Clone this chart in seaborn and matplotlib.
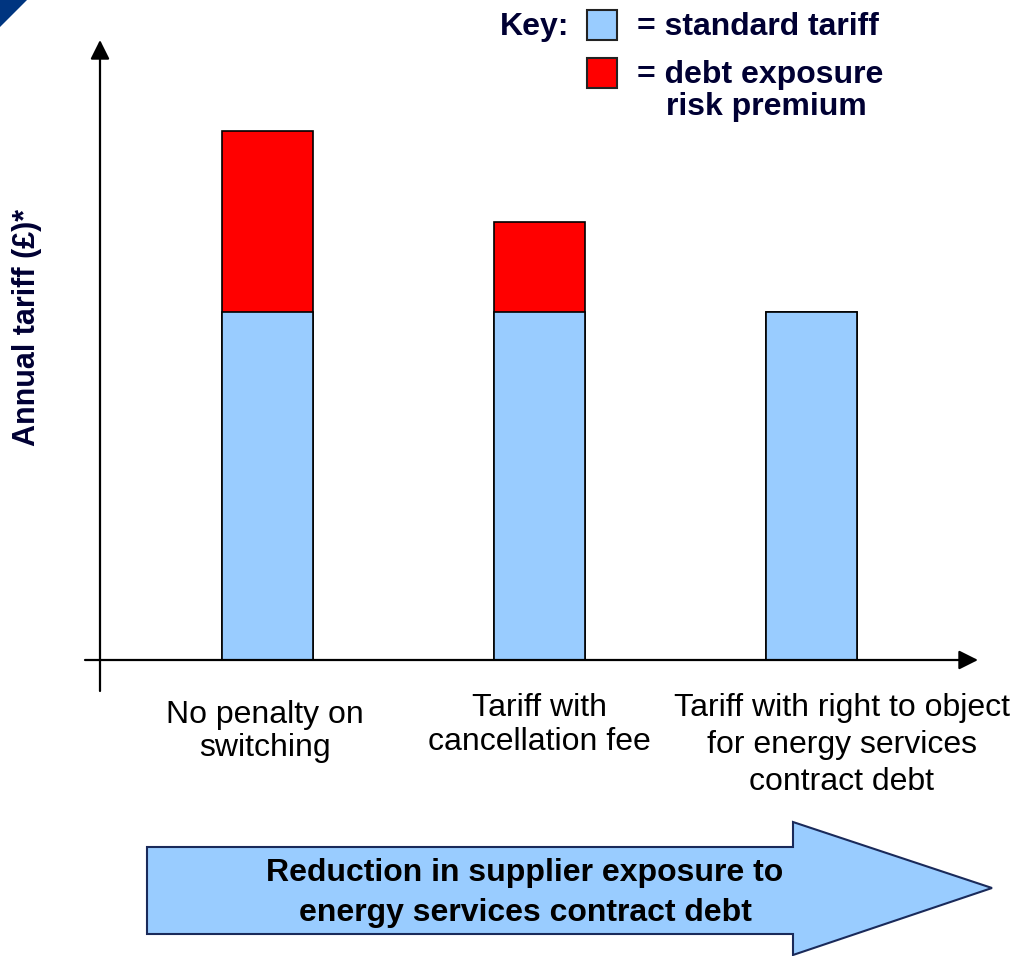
import numpy as np
import pandas as pd
import matplotlib
matplotlib.use('Agg')
import matplotlib.pyplot as plt
import seaborn as sns
from matplotlib.patches import Polygon, Rectangle

# Chart values (arbitrary units)
categories = ['No penalty on\nswitching',
              'Tariff with\ncancellation fee',
              'Tariff with right to object\nfor energy services\ncontract debt']
standard_tariff = [100, 100, 100]
risk_premium = [52, 26, 0]

W, H = 1016, 956
sns.set_style('white')
plt.rcParams['font.family'] = ['Liberation Sans', 'DejaVu Sans']

df = pd.DataFrame({'category': categories,
                   'standard': standard_tariff,
                   'premium': risk_premium})
df['total'] = df['standard'] + df['premium']

fig = plt.figure(figsize=(W / 100, H / 100), dpi=100)
ax = fig.add_axes([0, 0, 1, 1])

# stacked bars: total first (red), then standard on top (blue)
sns.barplot(data=df, x='category', y='total', color='#ff0000', saturation=1,
            width=0.335, edgecolor='black', linewidth=1.2, ax=ax)
sns.barplot(data=df, x='category', y='standard', color='#99ccff', saturation=1,
            width=0.335, edgecolor='black', linewidth=1.2, ax=ax)

# pixel <-> data mapping: bar 0 centre at x=267.5px, spacing 272px,
# baseline at y=660px, 3.48px per unit
sx, x0 = 272.0, 267.5
sy, y0 = 3.48, 660.0
def px(x):
    return (x - x0) / sx
def py(y):
    return (y0 - y) / sy

ax.set_xlim(px(0), px(W))
ax.set_ylim(py(H), py(0))
ax.axis('off')

# axis arrows
arrow_kw = dict(arrowstyle='-|>,head_length=0.58,head_width=0.29',
                mutation_scale=20, color='black', lw=1.6,
                shrinkA=0, shrinkB=0)
ax.annotate('', xy=(px(100), py(40)), xytext=(px(100), py(691)),
            arrowprops=arrow_kw)
ax.annotate('', xy=(px(978), py(660)), xytext=(px(85), py(660)),
            arrowprops=arrow_kw)

# category labels
label_x = [265, 539, 842]
label_y = [700, 693, 693]
label_ls = [1.12, 1.18, 1.3]
for lab, lx, ly, ls in zip(categories, label_x, label_y, label_ls):
    ax.text(px(lx), py(ly), lab, ha='center', va='top', fontsize=23,
            linespacing=ls, color='black')

# y label
fig.text(27 / W, 1 - 327 / H, 'Annual tariff (£)*', rotation=90,
         ha='center', va='center', fontsize=22, fontweight='bold',
         color='#000033')

# key
navy = '#000033'
fig.text(500 / W, 1 - 27 / H, 'Key:', ha='left', va='center', fontsize=23,
         fontweight='bold', color=navy)
for (yy, col) in [(10, '#99ccff'), (58, '#ff0000')]:
    fig.patches.append(Rectangle((587 / W, 1 - (yy + 30) / H), 30 / W, 30 / H,
                                 transform=fig.transFigure, facecolor=col,
                                 edgecolor='#222222', lw=1.5))
fig.text(637 / W, 1 - 27 / H, '= standard tariff', ha='left', va='center',
         fontsize=23, fontweight='bold', color=navy)
fig.text(637 / W, 1 - 75 / H, '= debt exposure', ha='left', va='center',
         fontsize=23, fontweight='bold', color=navy)
fig.text(666 / W, 1 - 107 / H, 'risk premium', ha='left', va='center',
         fontsize=23, fontweight='bold', color=navy)

# big direction arrow at the bottom
pts = [(147, 847), (793, 847), (793, 822), (992, 888), (793, 955),
       (793, 934), (147, 934)]
fig.patches.append(Polygon([(x / W, 1 - y / H) for x, y in pts], closed=True,
                           transform=fig.transFigure, facecolor='#99ccff',
                           edgecolor='#1a2a5a', lw=1.5))
fig.text(525 / W, 1 - 893 / H,
         'Reduction in supplier exposure to\nenergy services contract debt',
         ha='center', va='center', fontsize=23, fontweight='bold',
         linespacing=1.42, color='black')

# corner decoration
fig.patches.append(Polygon([(0, 1), (27 / W, 1), (0, 1 - 27 / H)], closed=True,
                           transform=fig.transFigure, facecolor='#003580',
                           edgecolor='none'))

fig.savefig('out.png', dpi=100)
